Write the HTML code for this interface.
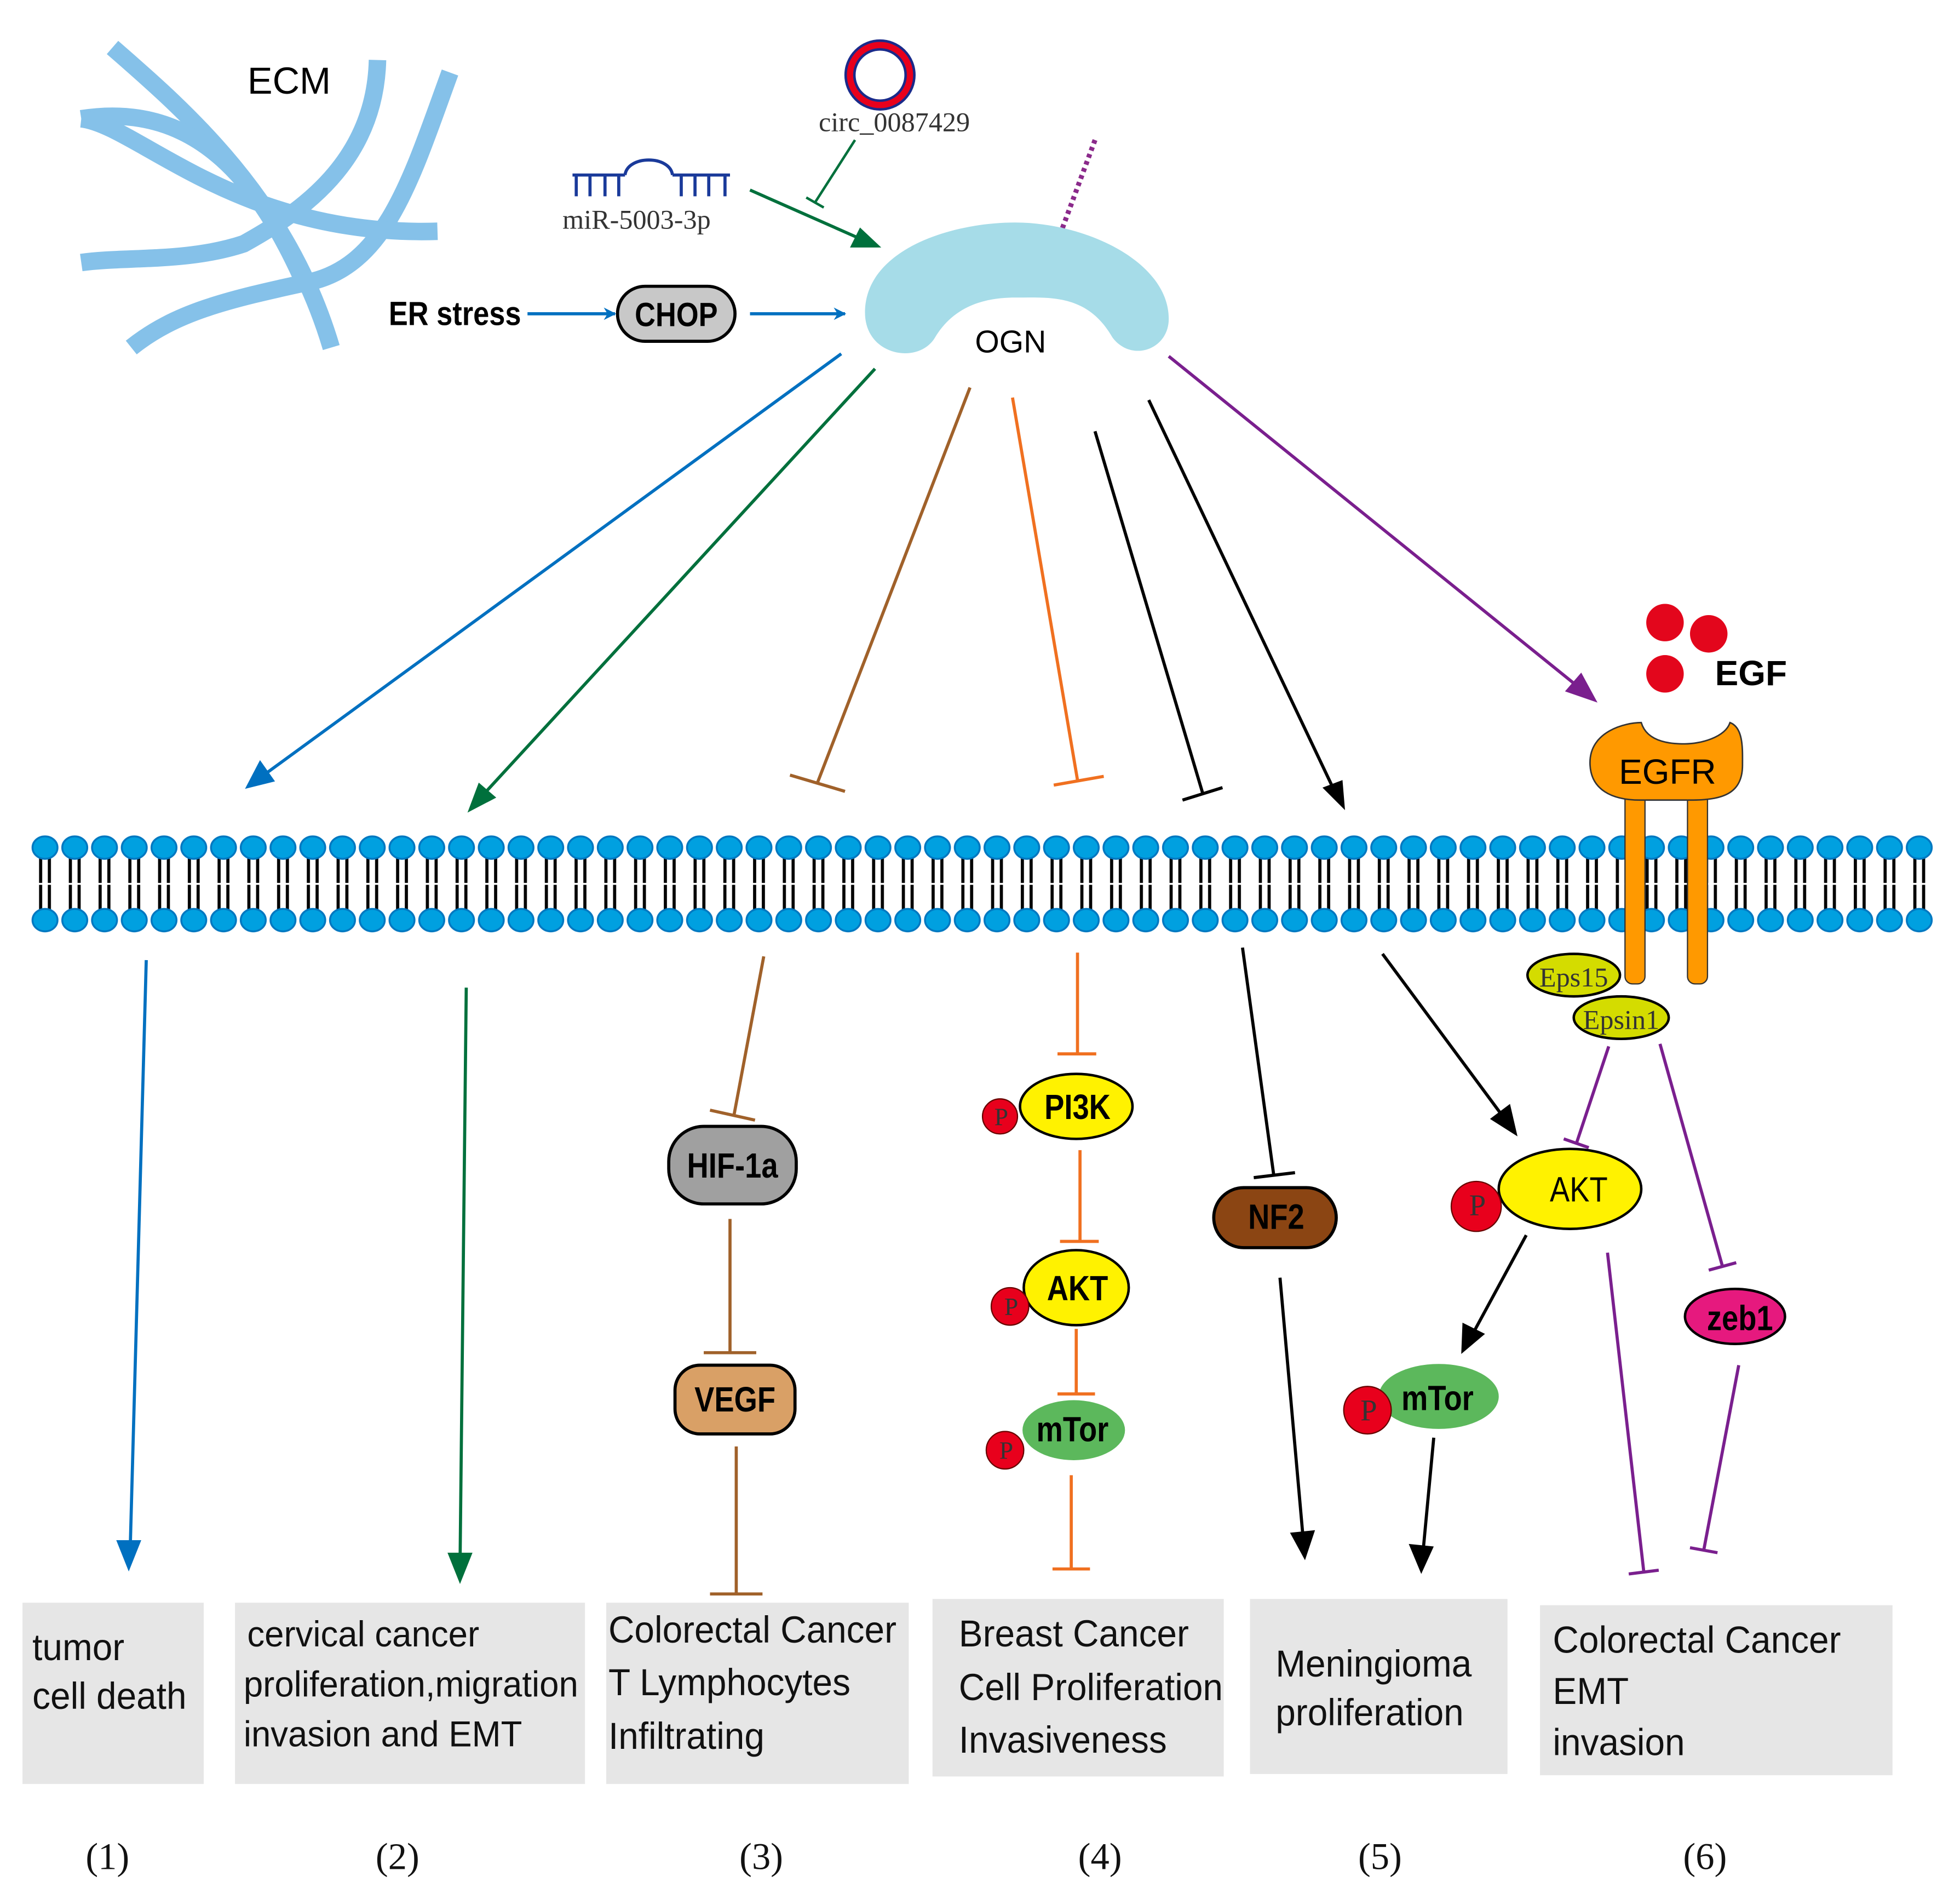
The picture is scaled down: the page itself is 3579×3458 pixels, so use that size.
<!DOCTYPE html>
<html><head><meta charset="utf-8"><style>html,body{margin:0;padding:0;background:#fff}svg{display:block}</style></head>
<body>
<svg xmlns="http://www.w3.org/2000/svg" width="3579" height="3458" viewBox="0 0 1568 1515">
<defs>
<pattern id="mem" x="24" y="660" width="23.8" height="95" patternUnits="userSpaceOnUse">
<line x1="8.5" y1="18" x2="8.5" y2="76" stroke="#000" stroke-width="2.5"/>
<line x1="15.5" y1="18" x2="15.5" y2="76" stroke="#000" stroke-width="2.5"/>
<line x1="5" y1="47" x2="19" y2="47" stroke="#fff" stroke-width="1.5"/>
<ellipse cx="12" cy="18" rx="10" ry="9" fill="#00A0E0" stroke="#0077C0" stroke-width="1.5"/>
<ellipse cx="12" cy="76" rx="10" ry="9" fill="#00A0E0" stroke="#0077C0" stroke-width="1.5"/>
</pattern>
<marker id="ab" markerWidth="10" markerHeight="10" refX="9" refY="5" orient="auto" markerUnits="userSpaceOnUse" viewBox="0 0 10 10"><path d="M0,0 L10,5 L0,10 L3,5z" fill="#0070C0"/></marker>
</defs>
<g font-family="Liberation Sans, sans-serif">
<!-- ECM -->
<g fill="none" stroke="#85C1E9" stroke-width="14">
<path d="M90,38 C150,90 230,160 265,278"/>
<path d="M65,95 C160,80 210,150 245,230"/>
<path d="M302,48 C300,130 240,170 195,195 C150,210 100,205 65,210"/>
<path d="M360,58 C330,140 310,210 250,225 C180,240 140,250 105,278"/>
<path d="M65,95 C110,100 190,190 350,185"/>
</g>
<text x="198" y="75" font-size="30">ECM</text>
<!-- circ -->
<circle cx="704" cy="60" r="24" fill="none" stroke="#1A2A8A" stroke-width="9"/>
<circle cx="704" cy="60" r="24" fill="none" stroke="#E8001C" stroke-width="5"/>
<text x="655" y="105" font-family="Liberation Serif, serif" font-size="22" fill="#333">circ_0087429</text>
<!-- miR -->
<g stroke="#1A3A9A" stroke-width="2.5" fill="none">
<path d="M458,140 H500 M538,140 H584"/>
<path d="M500,140 C502,124 536,124 538,140"/>
<path d="M461,140 V157 M472,140 V157 M484,140 V157 M495,140 V157 M545,140 V157 M556,140 V157 M567,140 V157 M580,140 V157"/>
</g>
<text x="450" y="183" font-family="Liberation Serif, serif" font-size="22" fill="#333">miR-5003-3p</text>
<line x1="600" y1="152" x2="695" y2="194" stroke="#00703C" stroke-width="2.5"/>
<path d="M705,198 L680,198 L688,182z" fill="#00703C"/>
<line x1="684" y1="112" x2="652" y2="162" stroke="#00703C" stroke-width="2"/>
<line x1="645" y1="158" x2="659" y2="166" stroke="#00703C" stroke-width="2"/>
<line x1="876" y1="112" x2="849" y2="185" stroke="#8B2A8B" stroke-width="4" stroke-dasharray="3,3"/>
<!-- OGN -->
<path d="M692,250 C692,200 760,178 812,178 C870,178 935,210 935,255 C935,280 905,290 890,270 C870,235 840,238 812,238 C780,238 760,250 748,270 C735,292 692,285 692,250z" fill="#A6DCE8"/>
<text x="780" y="282" font-size="25">OGN</text>
<!-- ER stress -->
<text x="311" y="260" font-size="27" font-weight="bold" transform="translate(311,0) scale(0.85,1) translate(-311,0)">ER stress</text>
<line x1="422" y1="251" x2="492" y2="251" stroke="#0070C0" stroke-width="2.5" marker-end="url(#ab)"/>
<rect x="494" y="229" width="94" height="44" rx="22" fill="#C8C8C8" stroke="#000" stroke-width="2.5"/>
<text x="541" y="261" font-size="27" font-weight="bold" text-anchor="middle" transform="translate(541,0) scale(0.85,1) translate(-541,0)">CHOP</text>
<line x1="600" y1="251" x2="676" y2="251" stroke="#0070C0" stroke-width="2.5" marker-end="url(#ab)"/>
<!-- membrane -->
<rect x="24" y="660" width="1523" height="95" fill="url(#mem)"/>
<!-- top arrows -->
<g stroke-width="2.5" fill="none">
<line x1="673" y1="283" x2="200" y2="628" stroke="#0070C0"/>
<path d="M196,631 L220,625 L208,608z" fill="#0070C0" stroke="none"/>
<line x1="700" y1="295" x2="378" y2="645" stroke="#00703C"/>
<path d="M374,650 L397,638 L383,626z" fill="#00703C" stroke="none"/>
<line x1="776" y1="310" x2="654" y2="626" stroke="#A0612A"/>
<line x1="632" y1="620" x2="676" y2="633" stroke="#A0612A"/>
<line x1="810" y1="318" x2="862" y2="624" stroke="#F07020"/>
<line x1="843" y1="628" x2="883" y2="621" stroke="#F07020"/>
<line x1="876" y1="345" x2="962" y2="634" stroke="#000"/>
<line x1="946" y1="640" x2="978" y2="630" stroke="#000"/>
<line x1="919" y1="320" x2="1072" y2="642" stroke="#000"/>
<path d="M1076,648 L1058,630 L1074,624z" fill="#000" stroke="none"/>
<line x1="935" y1="285" x2="1272" y2="557" stroke="#7A1F8E"/>
<path d="M1278,562 L1252,553 L1265,538z" fill="#7A1F8E" stroke="none"/>
</g>
<!-- EGF -->
<circle cx="1332" cy="498" r="15" fill="#E3061C"/>
<circle cx="1367" cy="507" r="15" fill="#E3061C"/>
<circle cx="1332" cy="539" r="15" fill="#E3061C"/>
<text x="1372" y="548" font-size="28" font-weight="bold">EGF</text>
<!-- EGFR -->
<rect x="1300" y="630" width="16" height="157" rx="6" fill="#FF9900" stroke="#333" stroke-width="1"/>
<rect x="1350" y="630" width="16" height="157" rx="6" fill="#FF9900" stroke="#333" stroke-width="1"/>
<path d="M1272,610 C1272,585 1300,578 1313,578 C1318,595 1340,595 1348,595 C1360,595 1380,590 1384,578 C1395,582 1394,600 1394,612 C1394,635 1378,640 1352,640 L1312,640 C1290,640 1272,632 1272,610z" fill="#FF9900" stroke="#333" stroke-width="1.2"/>
<text x="1334" y="627" font-size="28" text-anchor="middle">EGFR</text>
<ellipse cx="1259" cy="780" rx="37" ry="17" fill="#D4DC00" stroke="#000" stroke-width="2"/>
<text x="1259" y="789" font-family="Liberation Serif, serif" font-size="22" text-anchor="middle" fill="#333">Eps15</text>
<ellipse cx="1297" cy="814" rx="38" ry="17" fill="#D4DC00" stroke="#000" stroke-width="2"/>
<text x="1297" y="823" font-family="Liberation Serif, serif" font-size="22" text-anchor="middle" fill="#333">Epsin1</text>
<!-- lower paths -->
<g stroke-width="2.5" fill="none">
<line x1="117" y1="768" x2="104" y2="1245" stroke="#0070C0"/>
<path d="M103,1257 L93,1232 L113,1232z" fill="#0070C0" stroke="none"/>
<line x1="373" y1="790" x2="368" y2="1255" stroke="#00703C"/>
<path d="M368,1267 L358,1242 L378,1242z" fill="#00703C" stroke="none"/>
<line x1="611" y1="765" x2="587" y2="893" stroke="#A0612A"/>
<line x1="568" y1="888" x2="604" y2="896" stroke="#A0612A"/>
<line x1="584" y1="975" x2="584" y2="1082" stroke="#A0612A"/>
<line x1="563" y1="1082" x2="605" y2="1082" stroke="#A0612A"/>
<line x1="589" y1="1157" x2="589" y2="1275" stroke="#A0612A"/>
<line x1="568" y1="1275" x2="610" y2="1275" stroke="#A0612A"/>
<line x1="862" y1="762" x2="862" y2="843" stroke="#F07020"/>
<line x1="846" y1="843" x2="877" y2="843" stroke="#F07020"/>
<line x1="864" y1="920" x2="864" y2="993" stroke="#F07020"/>
<line x1="848" y1="993" x2="879" y2="993" stroke="#F07020"/>
<line x1="861" y1="1063" x2="861" y2="1115" stroke="#F07020"/>
<line x1="846" y1="1115" x2="876" y2="1115" stroke="#F07020"/>
<line x1="857" y1="1180" x2="857" y2="1255" stroke="#F07020"/>
<line x1="842" y1="1255" x2="872" y2="1255" stroke="#F07020"/>
<line x1="994" y1="758" x2="1019" y2="940" stroke="#000"/>
<line x1="1003" y1="942" x2="1036" y2="938" stroke="#000"/>
<line x1="1024" y1="1022" x2="1043" y2="1236" stroke="#000"/>
<path d="M1044,1248 L1032,1226 L1052,1224z" fill="#000" stroke="none"/>
<line x1="1106" y1="763" x2="1206" y2="898" stroke="#000"/>
<path d="M1214,909 L1192,895 L1208,883z" fill="#000" stroke="none"/>
<line x1="1221" y1="988" x2="1176" y2="1071" stroke="#000"/>
<path d="M1169,1083 L1170,1058 L1188,1067z" fill="#000" stroke="none"/>
<line x1="1147" y1="1150" x2="1138" y2="1246" stroke="#000"/>
<path d="M1137,1259 L1127,1235 L1147,1237z" fill="#000" stroke="none"/>
<line x1="1287" y1="837" x2="1261" y2="915" stroke="#7A1F8E"/>
<line x1="1251" y1="911" x2="1271" y2="918" stroke="#7A1F8E"/>
<line x1="1328" y1="835" x2="1378" y2="1013" stroke="#7A1F8E"/>
<line x1="1367" y1="1016" x2="1389" y2="1010" stroke="#7A1F8E"/>
<line x1="1391" y1="1092" x2="1363" y2="1240" stroke="#7A1F8E"/>
<line x1="1352" y1="1238" x2="1374" y2="1242" stroke="#7A1F8E"/>
<line x1="1286" y1="1002" x2="1315" y2="1257" stroke="#7A1F8E"/>
<line x1="1303" y1="1259" x2="1327" y2="1256" stroke="#7A1F8E"/>
</g>
<!-- nodes -->
<g font-weight="bold" font-size="28" text-anchor="middle">
<rect x="535" y="901" width="102" height="62" rx="28" fill="#A0A0A0" stroke="#000" stroke-width="2.5"/>
<text x="586" y="942" transform="translate(586,0) scale(0.85,1) translate(-586,0)">HIF-1a</text>
<rect x="540" y="1092" width="96" height="55" rx="20" fill="#D9A066" stroke="#000" stroke-width="2.5"/>
<text x="588" y="1129" transform="translate(588,0) scale(0.85,1) translate(-588,0)">VEGF</text>
<ellipse cx="861" cy="885" rx="45" ry="26" fill="#FFF200" stroke="#000" stroke-width="2"/>
<text x="862" y="895" transform="translate(862,0) scale(0.85,1) translate(-862,0)">PI3K</text>
<ellipse cx="861" cy="1030" rx="42" ry="30" fill="#FFF200" stroke="#000" stroke-width="2"/>
<text x="862" y="1040" transform="translate(862,0) scale(0.85,1) translate(-862,0)">AKT</text>
<ellipse cx="859" cy="1144" rx="41" ry="24" fill="#5CB85C"/>
<text x="858" y="1153" transform="translate(858,0) scale(0.85,1) translate(-858,0)">mTor</text>
<rect x="971" y="950" width="98" height="48" rx="24" fill="#8B4513" stroke="#000" stroke-width="2.5"/>
<text x="1021" y="983" transform="translate(1021,0) scale(0.85,1) translate(-1021,0)">NF2</text>
<ellipse cx="1256" cy="951" rx="57" ry="32" fill="#FFF200" stroke="#000" stroke-width="2"/>
<text x="1263" y="961" font-weight="normal" transform="translate(1263,0) scale(0.85,1) translate(-1263,0)">AKT</text>
<ellipse cx="1151" cy="1117" rx="48" ry="26" fill="#5CB85C"/>
<text x="1150" y="1128" transform="translate(1150,0) scale(0.85,1) translate(-1150,0)">mTor</text>
<ellipse cx="1388" cy="1053" rx="40" ry="22" fill="#E6197E" stroke="#000" stroke-width="2"/>
<text x="1392" y="1064" transform="translate(1392,0) scale(0.85,1) translate(-1392,0)">zeb1</text>
</g>
<g font-family="Liberation Serif, serif" font-size="20" fill="#333" text-anchor="middle">
<circle cx="800" cy="893" r="14" fill="#E8001C" stroke="#600" stroke-width="1"/><text x="801" y="900">P</text>
<circle cx="808" cy="1045" r="15" fill="#E8001C" stroke="#600" stroke-width="1"/><text x="809" y="1052">P</text>
<circle cx="804" cy="1160" r="15" fill="#E8001C" stroke="#600" stroke-width="1"/><text x="805" y="1167">P</text>
<circle cx="1181" cy="965" r="20" fill="#E8001C" stroke="#600" stroke-width="1"/><text x="1182" y="972" font-size="24">P</text>
<circle cx="1094" cy="1128" r="19" fill="#E8001C" stroke="#600" stroke-width="1"/><text x="1095" y="1136" font-size="24">P</text>
</g>
<!-- boxes -->
<g fill="#E6E6E6">
<rect x="18" y="1282" width="145" height="145"/>
<rect x="188" y="1282" width="280" height="145"/>
<rect x="485" y="1282" width="242" height="145"/>
<rect x="746" y="1279" width="233" height="142"/>
<rect x="1000" y="1279" width="206" height="140"/>
<rect x="1232" y="1284" width="282" height="136"/>
</g>
<g font-size="30" fill="#111" transform="scale(0.96,1)">
<text x="27" y="1328">tumor</text><text x="27" y="1367">cell death</text>
<g font-size="29"><text x="206" y="1317">cervical cancer</text><text x="203" y="1357">proliferation,migration</text><text x="203" y="1397">invasion and EMT</text></g>
<text x="507" y="1314">Colorectal Cancer</text><text x="507" y="1356">T Lymphocytes</text><text x="507" y="1399">Infiltrating</text>
<text x="799" y="1317">Breast Cancer</text><text x="799" y="1360">Cell Proliferation</text><text x="799" y="1402">Invasiveness</text>
<text x="1063" y="1341">Meningioma</text><text x="1063" y="1380">proliferation</text>
<text x="1294" y="1322">Colorectal Cancer</text><text x="1294" y="1363">EMT</text><text x="1294" y="1404">invasion</text>
</g>
<g font-family="Liberation Serif, serif" font-size="30" fill="#111" text-anchor="middle">
<text x="86" y="1495">(1)</text><text x="318" y="1495">(2)</text><text x="609" y="1495">(3)</text>
<text x="880" y="1495">(4)</text><text x="1104" y="1495">(5)</text><text x="1364" y="1495">(6)</text>
</g>
</g>
</svg>
</body></html>
